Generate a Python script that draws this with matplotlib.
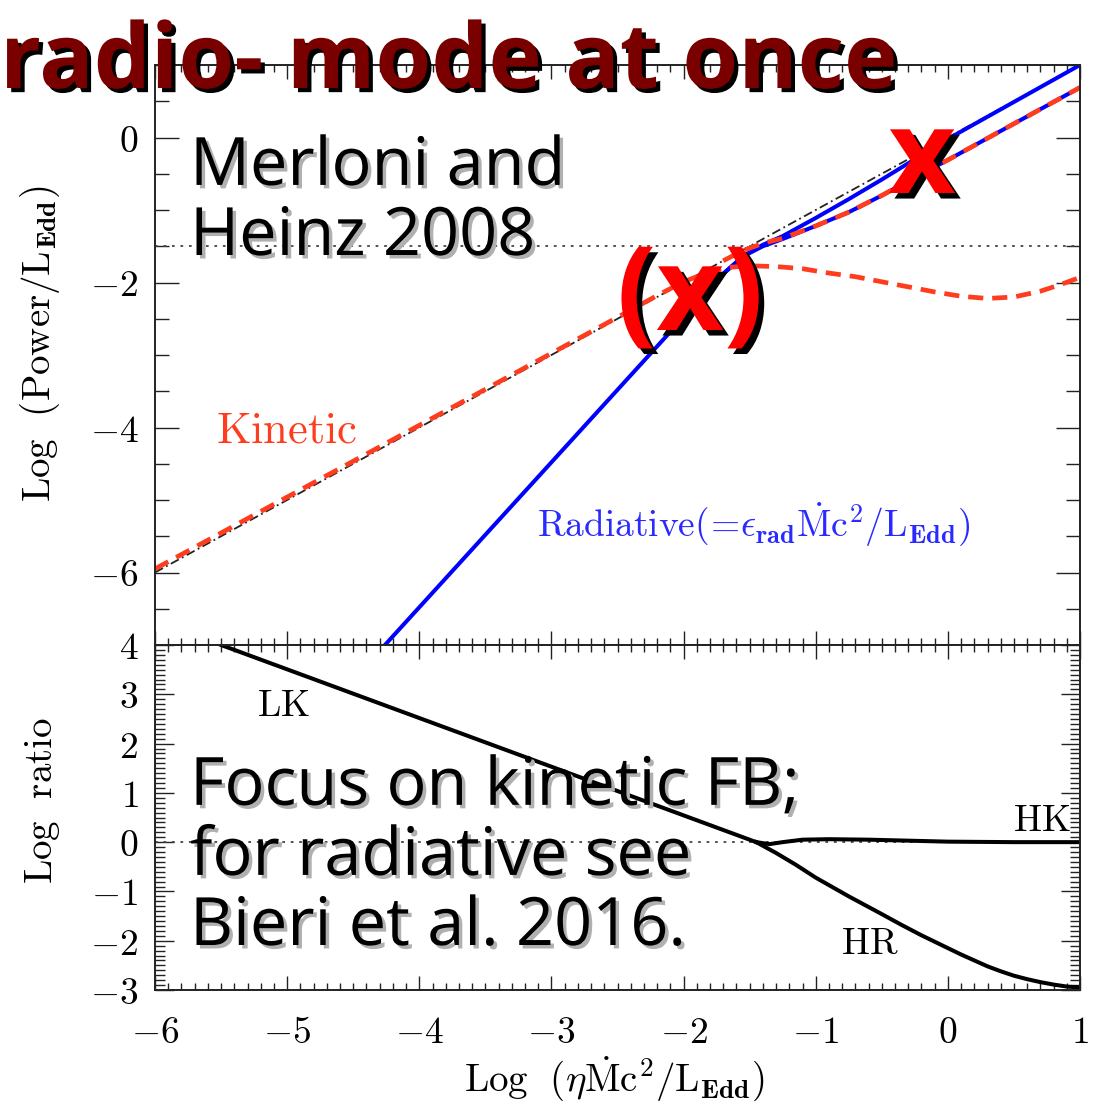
import numpy as np
import matplotlib
matplotlib.use("Agg")
import matplotlib.pyplot as plt
import matplotlib.ticker as mticker
import matplotlib.patheffects as pe

plt.rcParams['mathtext.fontset'] = 'cm'

# Top panel: powers in units of L_Edd vs accretion power (log)
total_x = [-6.0, 1.0]
total_y = [-6.0, 1.0]

# kinetic power, low-kinetic + high-radiative branch
kin_hr_x = [-6.0, -4.0, -2.5, -2.2, -2.0, -1.8, -1.65, -1.5, -1.3, -1.1, -0.9, -0.7,
            -0.5, -0.3, -0.1, 0.1, 0.3, 0.5, 0.7, 0.85, 1.0]
kin_hr_y = [-5.95, -3.97, -2.48, -2.18, -1.99, -1.85, -1.79, -1.77, -1.78, -1.81, -1.87,
            -1.92, -1.99, -2.06, -2.13, -2.19, -2.22, -2.20, -2.12, -2.03, -1.93]

# kinetic power, high-kinetic branch
kin_hk_x = [-1.7, -1.55, -1.4, -1.25, -1.0, -0.75, -0.5, -0.25, 0.0, 0.5, 1.0]
kin_hk_y = [-1.70, -1.56, -1.46, -1.39, -1.22, -1.03, -0.80, -0.55, -0.31, 0.19, 0.69]

# radiative power
rad_lk_x = [-4.3, -1.7]
rad_lk_y = [-7.08, -1.88]
rad_hr_x = [-1.7, -1.55, -1.4, -1.25, -1.0, -0.75, -0.5, -0.25, 0.0, 0.5, 1.0]
rad_hr_y = [-1.88, -1.64, -1.48, -1.36, -1.11, -0.85, -0.58, -0.30, -0.02, 0.49, 1.0]
rad_hk_x = [-1.7, -1.55, -1.4, -1.25, -1.0, -0.75, -0.5, -0.25, 0.0, 0.5, 1.0]
rad_hk_y = [-1.88, -1.64, -1.50, -1.40, -1.22, -1.03, -0.80, -0.55, -0.31, 0.19, 0.69]

# Bottom panel: log ratio kinetic / radiative
lk_x = [-5.5, -1.45]
lk_y = [4.0, 0.0]
hk_x = [-1.45, -1.35, -1.25, -1.1, -0.9, -0.6, -0.3, 0.0, 0.5, 1.0]
hk_y = [0.0, -0.04, 0.0, 0.05, 0.06, 0.05, 0.03, 0.01, 0.0, 0.0]
hr_x = [-1.45, -1.3, -1.15, -1.0, -0.75, -0.5, -0.35, -0.2, -0.1, 0.0, 0.1, 0.2, 0.3,
        0.4, 0.5, 0.6, 0.7, 0.8, 0.9, 1.0]
hr_y = [0.0, -0.22, -0.46, -0.72, -1.10, -1.46, -1.68, -1.89, -2.02, -2.15, -2.28,
        -2.40, -2.52, -2.62, -2.71, -2.78, -2.84, -2.89, -2.93, -2.95]

RED = '#ff3c1e'
BLUE = '#0000ff'

W, H = 1102, 1112
fig = plt.figure(figsize=(W / 100, H / 100), dpi=100)
ax1 = fig.add_axes([155 / W, 1 - 645 / H, 925 / W, 580 / H])
ax2 = fig.add_axes([155 / W, 1 - 990 / H, 925 / W, 345 / H])

# --- top panel
ax1.axhline(-1.5, color='#444444', lw=1.3, dashes=(1.5, 3.2))
ax1.plot(total_x, total_y, color='#222222', lw=1.3, dashes=(5, 2, 1, 2))
ax1.plot(rad_lk_x, rad_lk_y, color=BLUE, lw=2.9, solid_capstyle='butt')
ax1.plot(rad_hr_x, rad_hr_y, color=BLUE, lw=2.9)
ax1.plot(rad_hk_x, rad_hk_y, color=BLUE, lw=2.9)
ax1.plot(kin_hr_x, kin_hr_y, color=RED, lw=3.4, dashes=(3.2, 1.9))
ax1.plot(kin_hk_x, kin_hk_y, color=RED, lw=3.4, dashes=(3.2, 1.9))
ax1.set_xlim(-6, 1)
ax1.set_ylim(-7, 1)

ax1.text(-5.0, -4.03, r'$\mathrm{Kinetic}$', color=RED, fontsize=32,
         ha='center', va='center')
ax1.text(-1.47, -5.34,
         r'$\mathrm{Radiative(\!=\!}\epsilon_{\mathbf{rad}}\dot{\mathrm{M}}\mathrm{c^2/L_{\mathbf{Edd}})}$',
         color='#2a2aff', fontsize=27, ha='center', va='center')
ax1.set_ylabel(r'$\mathrm{Log\ \ (Power/L_{\mathbf{Edd}})}$', fontsize=28)
ax1.yaxis.set_label_coords(-0.10, 0.52)

# --- bottom panel
ax2.axhline(0, color='#444444', lw=1.3, dashes=(1.5, 3.2))
ax2.plot(lk_x, lk_y, color='k', lw=2.9)
ax2.plot(hk_x, hk_y, color='k', lw=2.9)
ax2.plot(hr_x, hr_y, color='k', lw=2.9)
ax2.set_xlim(-6, 1)
ax2.set_ylim(-3, 4)

ax2.text(-5.03, 2.76, r'$\mathrm{LK}$', fontsize=27, ha='center', va='center')
ax2.text(-0.59, -2.07, r'$\mathrm{HR}$', fontsize=27, ha='center', va='center')
ax2.text(0.71, 0.43, r'$\mathrm{HK}$', fontsize=27, ha='center', va='center')
ax2.set_ylabel(r'$\mathrm{Log\ \ ratio}$', fontsize=28)
ax2.yaxis.set_label_coords(-0.10, 0.55)
ax2.set_xlabel(r'$\mathrm{Log\ \ (}\eta\dot{\mathrm{M}}\mathrm{c^2/L_{\mathbf{Edd}})}$',
               fontsize=28, va='center')
ax2.xaxis.set_label_coords(0.497, -0.26)

# IDL-style inward ticks on all four sides
for ax in (ax1, ax2):
    for s in ax.spines.values():
        s.set_linewidth(1.4)
        s.set_color('#222222')
    ax.xaxis.set_major_locator(mticker.MultipleLocator(1))
    ax.xaxis.set_minor_locator(mticker.MultipleLocator(0.1))
    ax.xaxis.set_major_formatter(mticker.FormatStrFormatter('$%d$'))
    ax.yaxis.set_major_formatter(mticker.FormatStrFormatter('$%d$'))
    ax.tick_params(which='both', direction='in', top=True, right=True,
                   width=1.0, color='#222222', labelsize=27)
    ax.tick_params(axis='x', which='major', length=10, pad=18)
    ax.tick_params(axis='x', which='minor', length=5)

ax1.yaxis.set_major_locator(mticker.MultipleLocator(2))
ax1.yaxis.set_minor_locator(mticker.MultipleLocator(0.5))
ax1.tick_params(axis='y', which='major', length=17, pad=12)
ax1.tick_params(axis='y', which='minor', length=10)
ax1.tick_params(axis='x', labelbottom=False)

ax2.yaxis.set_major_locator(mticker.MultipleLocator(1))
ax2.yaxis.set_minor_locator(mticker.MultipleLocator(0.1))
ax2.tick_params(axis='y', which='major', length=14, pad=12)
ax2.tick_params(axis='y', which='minor', length=7)

# --- overlaid annotations
def shadow(dx, dy, col):
    return [pe.SimplePatchShadow(offset=(dx, dy), shadow_rgbFace=col, alpha=1.0), pe.Normal()]

fig.text(0.0, 1 - 88 / H, 'radio- mode at once', fontsize=65, fontweight='bold',
         family='Open Sans', color='#7a0000', va='baseline', ha='left',
         path_effects=shadow(3, -3, 'black'))

fig.text(190 / W, 1 - 255 / H, 'Merloni and\nHeinz 2008', fontsize=48,
         family='Open Sans', color='black', va='baseline', ha='left',
         linespacing=1.05, path_effects=shadow(2.5, -2.5, '#b0b0b0'))

fig.text(190 / W, 1 - 945 / H, 'Focus on kinetic FB;\nfor radiative see\nBieri et al. 2016.',
         fontsize=48, family='Open Sans', color='black', va='baseline', ha='left',
         linespacing=1.05, path_effects=shadow(2.5, -2.5, '#b0b0b0'))

fig.text(922 / W, 1 - 193 / H, 'x', fontsize=84, fontweight='bold', family='Open Sans',
         color='#ff0000', ha='center', va='baseline', path_effects=shadow(4, -4, 'black'))
fig.text(690 / W, 1 - 330 / H, '(x)', fontsize=84, fontweight='bold', family='Open Sans',
         color='#ff0000', ha='center', va='baseline', path_effects=shadow(4, -4, 'black'))

fig.savefig('out.png', dpi=100)
